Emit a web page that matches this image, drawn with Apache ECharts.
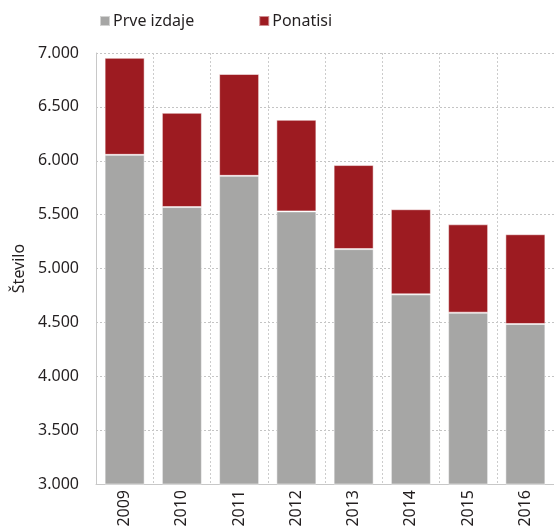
<!DOCTYPE html>
<html>
<head>
<meta charset="utf-8">
<script src="https://cdn.jsdelivr.net/npm/echarts@6/dist/echarts.min.js"></script>
<style>
  html, body { margin: 0; padding: 0; background: #fff; }
  #chart { width: 554px; height: 530px; }
</style>
</head>
<body>
<div id="chart"></div>
<script>
// leta
var years = ['2009', '2010', '2011', '2012', '2013', '2014', '2015', '2016'];
// prve izdaje (spodnji del stolpca)
var prveIzdaje = [6055, 5570, 5860, 5530, 5180, 4760, 4590, 4485];
// ponatisi (zgornji del stolpca)
var ponatisi = [900, 875, 945, 850, 780, 790, 820, 833];
var seriesNames = ['Prve izdaje', 'Ponatisi'];

var font = 'Noto Sans';
var chart = echarts.init(document.getElementById('chart'));

function fmt(v) {
  return String(v).replace(/\B(?=(\d{3})+(?!\d))/g, '.');
}

var option = {
  animation: false,
  textStyle: { fontFamily: font, color: '#231f20' },
  legend: {
    data: seriesNames,
    left: 94,
    top: 8,
    icon: 'rect',
    itemWidth: 10,
    itemHeight: 10,
    itemGap: 64,
    textStyle: { fontFamily: font, fontSize: 16, color: '#231f20', padding: [0, 0, 0, -2] }
  },
  grid: {
    left: 96,
    top: 53,
    right: -6,
    bottom: 46,
    containLabel: false
  },
  xAxis: {
    type: 'category',
    data: years,
    boundaryGap: true,
    axisLine: { show: true, lineStyle: { color: '#c8c8c8', width: 1 } },
    axisTick: { show: false },
    axisLabel: {
      rotate: 90,
      margin: 6,
      fontSize: 16,
      fontFamily: font,
      color: '#231f20'
    },
    splitLine: {
      show: true,
      lineStyle: { color: '#cccccc', type: [2, 2], width: 1 }
    }
  },
  yAxis: {
    type: 'value',
    min: 3000,
    max: 7000,
    interval: 500,
    name: 'Število',
    nameLocation: 'middle',
    nameGap: 69,
    nameRotate: 90,
    nameTextStyle: { fontSize: 16, fontFamily: font, color: '#231f20' },
    axisLine: { show: true, lineStyle: { color: '#c8c8c8', width: 1 } },
    axisTick: { show: false },
    axisLabel: {
      margin: 17,
      fontSize: 16,
      fontFamily: font,
      color: '#231f20',
      formatter: fmt
    },
    splitLine: {
      show: true,
      lineStyle: { color: '#c4c4c4', type: [2, 2], width: 1 }
    }
  },
  series: [
    {
      name: seriesNames[0],
      type: 'bar',
      stack: 'skupaj',
      barWidth: 40,
      data: prveIzdaje,
      itemStyle: { color: '#a6a6a5', borderColor: 'rgba(255,255,255,0.5)', borderWidth: 1 }
    },
    {
      name: seriesNames[1],
      type: 'bar',
      stack: 'skupaj',
      barWidth: 40,
      data: ponatisi,
      itemStyle: { color: '#9d1b21', borderColor: 'rgba(255,255,255,0.5)', borderWidth: 1 }
    }
  ]
};

chart.setOption(option);
</script>
</body>
</html>
